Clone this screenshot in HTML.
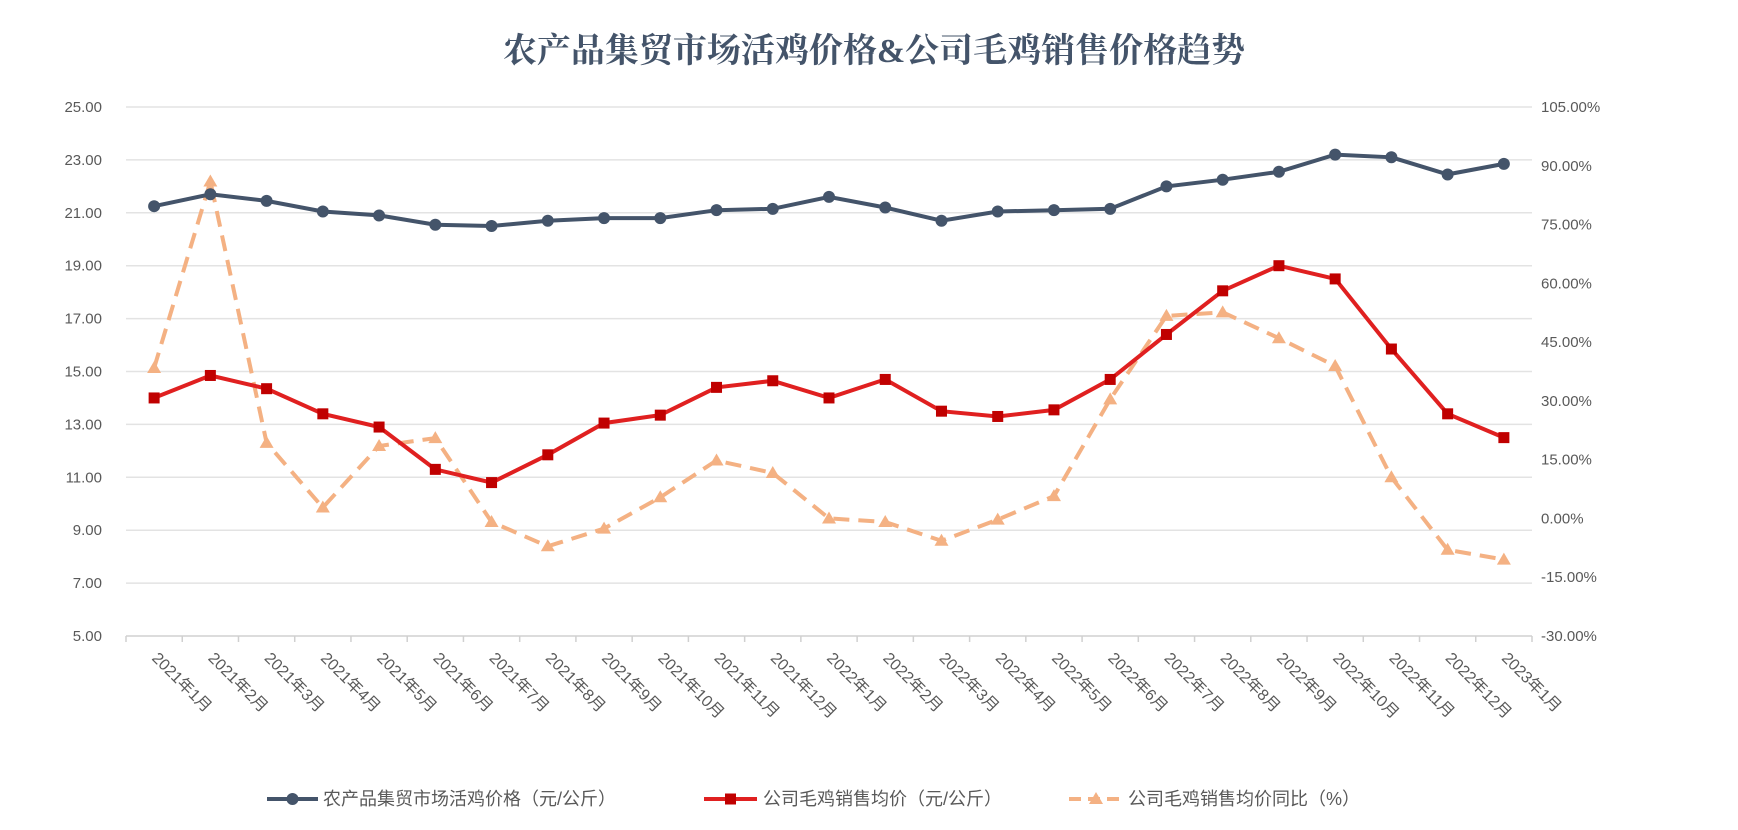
<!DOCTYPE html>
<html><head><meta charset="utf-8"><style>
html,body{margin:0;padding:0;background:#fff;}
svg{display:block;}
text{font-family:"Liberation Sans","Noto Sans CJK SC",sans-serif;}
</style></head><body>
<svg id="chart" width="1738" height="830" viewBox="0 0 1738 830">
<text x="874" y="62" text-anchor="middle" font-size="34" font-weight="bold" fill="#44546a" style="font-family:'Liberation Serif','Noto Serif CJK SC',serif">农产品集贸市场活鸡价格&amp;公司毛鸡销售价格趋势</text>
<g id="grid"></g>
<g id="axes"></g>
<g id="series"></g>
<g id="legend"></g>
</svg>
<script>
const categories=["2021年1月","2021年2月","2021年3月","2021年4月","2021年5月","2021年6月","2021年7月","2021年8月","2021年9月","2021年10月","2021年11月","2021年12月","2022年1月","2022年2月","2022年3月","2022年4月","2022年5月","2022年6月","2022年7月","2022年8月","2022年9月","2022年10月","2022年11月","2022年12月","2023年1月"];
const marketPrice=[21.25,21.7,21.45,21.05,20.9,20.55,20.5,20.7,20.8,20.8,21.1,21.15,21.6,21.2,20.7,21.05,21.1,21.15,22.0,22.25,22.55,23.2,23.1,22.45,22.85];
const companyPrice=[14.0,14.85,14.35,13.4,12.9,11.3,10.8,11.85,13.05,13.35,14.4,14.65,14.0,14.7,13.5,13.3,13.55,14.7,16.4,18.05,19.0,18.5,15.85,13.4,12.5];
const companyYoY=[38.4,86,19.3,2.8,18.5,20.5,-0.9,-7.1,-2.6,5.4,14.8,11.6,0,-0.9,-5.7,-0.3,5.7,30.4,51.7,52.6,46,38.9,10.5,-8,-10.5];
const leftTicks=[5,7,9,11,13,15,17,19,21,23,25];
const rightTicks=[-30,-15,0,15,30,45,60,75,90,105];
const legendLabels=["农产品集贸市场活鸡价格（元/公斤）","公司毛鸡销售均价（元/公斤）","公司毛鸡销售均价同比（%）"];

const NS="http://www.w3.org/2000/svg";
const L=126,R=1532,T=107,B=636;
const band=(R-L)/categories.length;
const xS=i=>L+band*(i+0.5);
const yL=v=>B-(v-5)/20*(B-T);
const yR=v=>B-(v+30)/135*(B-T);
function mk(tag,attrs,parent){const e=document.createElementNS(NS,tag);for(const k in attrs)e.setAttribute(k,attrs[k]);parent.appendChild(e);return e;}
const grid=document.getElementById('grid'),axes=document.getElementById('axes'),series=document.getElementById('series'),legend=document.getElementById('legend');

leftTicks.forEach(v=>{
  const y=yL(v);
  const ln=mk('line',{x1:L,x2:R,y1:y,y2:y,stroke:v===5?'#d0d0d0':'#e3e3e3','stroke-width':1.5},grid);
  
  
  const t=mk('text',{x:102,y:y+5,'text-anchor':'end','font-size':15,fill:'#595959'},axes);
  t.textContent=v.toFixed(2);
  
  
});
rightTicks.forEach(v=>{
  const t=mk('text',{x:1541,y:yR(v)+5,'text-anchor':'start','font-size':15,fill:'#595959'},axes);
  t.textContent=v.toFixed(2)+'%';
  
  
});
for(let i=0;i<=categories.length;i++){
  const x=L+band*i;
  const tk=mk('line',{x1:x,x2:x,y1:B,y2:B+6,stroke:'#d0d0d0','stroke-width':1.5},axes);
  
  
}
categories.forEach((c,i)=>{
  const x=xS(i)-3,y=659;
  const t=mk('text',{x:x,y:y,'font-size':16,fill:'#595959',transform:`rotate(45 ${x} ${y})`},axes);
  t.textContent=c;
  
  
});

function path(vals,ys){return vals.map((v,i)=>(i?'L':'M')+xS(i).toFixed(1)+' '+ys(v).toFixed(1)).join(' ');}
const p3=mk('path',{d:path(companyYoY,yR),fill:'none',stroke:'#f4b183','stroke-width':4,'stroke-dasharray':'16 9'},series);


companyYoY.forEach((v,i)=>{const x=xS(i),y=yR(v);
  const m=mk('polygon',{points:`${x},${y-7} ${x-7},${y+5} ${x+7},${y+5}`,fill:'#f4b183'},series);
  
  });
const p2=mk('path',{d:path(companyPrice,yL),fill:'none',stroke:'#e02020','stroke-width':4},series);


companyPrice.forEach((v,i)=>{const x=xS(i),y=yL(v);
  const m=mk('rect',{x:x-5.5,y:y-5.5,width:11,height:11,fill:'#c00000'},series);
  
  });
const p1=mk('path',{d:path(marketPrice,yL),fill:'none',stroke:'#44546a','stroke-width':4},series);


marketPrice.forEach((v,i)=>{const x=xS(i),y=yL(v);
  const m=mk('circle',{cx:x,cy:y,r:6,fill:'#44546a'},series);
  
  });

const lx=[[267,318,323],[704,757,763],[1069,1123,1128]];
const ly=799;
legendLabels.forEach((lab,i)=>{
  const g=mk('g',{},legend);
  
  
  const [a,b,tx]=lx[i],m=(a+b)/2;
  if(i===0){mk('line',{x1:a,x2:b,y1:ly,y2:ly,stroke:'#44546a','stroke-width':4},g);mk('circle',{cx:m,cy:ly,r:6,fill:'#44546a'},g);}
  if(i===1){mk('line',{x1:a,x2:b,y1:ly,y2:ly,stroke:'#e02020','stroke-width':4},g);mk('rect',{x:m-5.5,y:ly-5.5,width:11,height:11,fill:'#c00000'},g);}
  if(i===2){mk('line',{x1:a,x2:b,y1:ly,y2:ly,stroke:'#f4b183','stroke-width':4,'stroke-dasharray':'12 7'},g);mk('polygon',{points:`${m},${ly-7} ${m-7},${ly+5} ${m+7},${ly+5}`,fill:'#f4b183'},g);}
  const t=mk('text',{x:tx,y:ly+6,'font-size':18,fill:'#595959'},g);
  t.textContent=lab;
});
</script>
</body></html>
